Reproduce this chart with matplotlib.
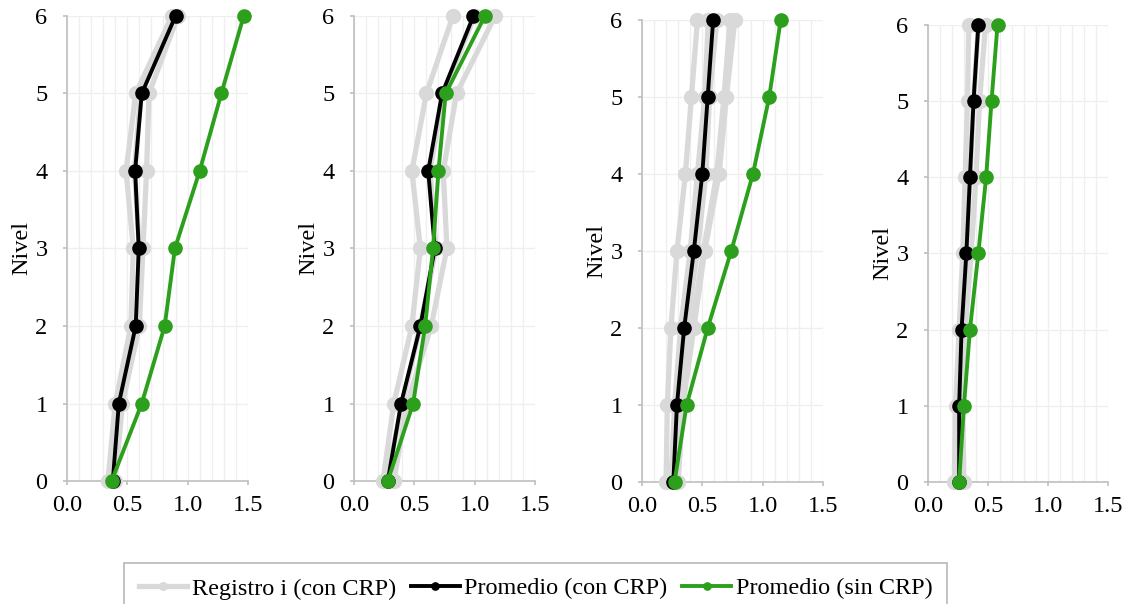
import numpy as np
import matplotlib
matplotlib.use("Agg")
import matplotlib.pyplot as plt
from matplotlib.ticker import MultipleLocator

plt.rcParams['font.family'] = ['Liberation Serif', 'DejaVu Serif']

niveles = [0, 1, 2, 3, 4, 5, 6]

# panel 1
p1_registros = [
    [0.34, 0.40, 0.53, 0.55, 0.49, 0.57, 0.87],
    [0.40, 0.46, 0.60, 0.63, 0.66, 0.68, 0.92],
    [0.38, 0.43, 0.58, 0.60, 0.56, 0.61, 0.90],
]
p1_con = [0.38, 0.43, 0.57, 0.595, 0.565, 0.62, 0.90]
p1_sin = [0.37, 0.62, 0.81, 0.895, 1.10, 1.28, 1.465]

# panel 2
p2_registros = [
    [0.24, 0.33, 0.48, 0.55, 0.48, 0.60, 0.82],
    [0.33, 0.44, 0.64, 0.77, 0.74, 0.85, 1.17],
    [0.27, 0.40, 0.55, 0.68, 0.63, 0.74, 1.00],
]
p2_con = [0.28, 0.39, 0.55, 0.67, 0.615, 0.73, 0.99]
p2_sin = [0.28, 0.49, 0.59, 0.655, 0.70, 0.76, 1.085]

# panel 3
p3_registros = [
    [0.20, 0.21, 0.24, 0.29, 0.36, 0.41, 0.46],
    [0.24, 0.27, 0.32, 0.40, 0.46, 0.52, 0.55],
    [0.27, 0.30, 0.37, 0.46, 0.53, 0.56, 0.62],
    [0.29, 0.33, 0.41, 0.51, 0.62, 0.68, 0.73],
    [0.30, 0.34, 0.43, 0.52, 0.64, 0.70, 0.77],
]
p3_con = [0.26, 0.29, 0.35, 0.43, 0.50, 0.545, 0.59]
p3_sin = [0.27, 0.37, 0.545, 0.74, 0.92, 1.055, 1.15]

# panel 4
p4_registros = [
    [0.22, 0.23, 0.26, 0.29, 0.31, 0.33, 0.34],
    [0.30, 0.29, 0.31, 0.36, 0.40, 0.43, 0.48],
    [0.26, 0.26, 0.28, 0.32, 0.35, 0.38, 0.42],
]
p4_con = [0.26, 0.26, 0.28, 0.32, 0.35, 0.38, 0.42]
p4_sin = [0.26, 0.30, 0.35, 0.42, 0.485, 0.53, 0.58]

xticks = [0.0, 0.5, 1.0, 1.5]
xticklabels = ['0.0', '0.5', '1.0', '1.5']

paneles = [
    (p1_registros, p1_con, p1_sin),
    (p2_registros, p2_con, p2_sin),
    (p3_registros, p3_con, p3_sin),
    (p4_registros, p4_con, p4_sin),
]

# axes positions (left, bottom, width, height)
posiciones = [
    [0.0592, 0.2036, 0.160, 0.770],
    [0.3130, 0.2036, 0.160, 0.770],
    [0.5676, 0.2020, 0.160, 0.765],
    [0.8205, 0.2020, 0.159, 0.757],
]

gris = '#d9d9d9'
verde = '#2ca01c'

fig = plt.figure(figsize=(11.31, 6.04), dpi=100)

for pos, (regs, con, sin) in zip(posiciones, paneles):
    ax = fig.add_axes(pos)
    for r in regs:
        lg, = ax.plot(r, niveles, '-o', color=gris, lw=3.8, ms=10, clip_on=False, zorder=3)
    lc, = ax.plot(con, niveles, '-o', color='black', lw=2.8, ms=9.5, clip_on=False, zorder=4)
    ls, = ax.plot(sin, niveles, '-o', color=verde, lw=2.8, ms=9.5, clip_on=False, zorder=5)

    ax.set_xlim(0, 1.5)
    ax.set_ylim(0, 6)
    ax.set_xticks(xticks)
    ax.set_xticklabels(xticklabels)
    ax.set_yticks(niveles)
    ax.xaxis.set_minor_locator(MultipleLocator(0.1))
    ax.grid(True, which='both', axis='x', color='#efefef', lw=0.9)
    ax.grid(True, which='major', axis='y', color='#efefef', lw=0.9)
    ax.set_axisbelow(True)
    ax.tick_params(which='minor', length=0)
    ax.tick_params(which='major', length=3, width=1.2, color='#bfbfbf', labelsize=17.5)
    ax.tick_params(axis='x', pad=7)
    ax.tick_params(axis='y', pad=11)
    ax.spines['top'].set_visible(False)
    ax.spines['right'].set_visible(False)
    ax.spines['left'].set_color('#bfbfbf')
    ax.spines['bottom'].set_color('#bfbfbf')
    ax.spines['left'].set_linewidth(1.2)
    ax.spines['bottom'].set_linewidth(1.2)
    ax.set_ylabel('Nivel', fontsize=17.5, labelpad=2)

leg = fig.legend([lg, lc, ls],
                 ['Registro i (con CRP)', 'Promedio (con CRP)', 'Promedio (sin CRP)'],
                 loc='upper center', bbox_to_anchor=(0.4735, 0.068), ncol=3,
                 fontsize=17.5, handlelength=2.0, handletextpad=0.2, columnspacing=0.6,
                 frameon=True, fancybox=False, borderpad=0.6, markerscale=0.55,
                 borderaxespad=0)
leg.get_frame().set_edgecolor('#a6a6a6')
leg.get_frame().set_linewidth(1.2)

fig.savefig('out.png', dpi=100)
